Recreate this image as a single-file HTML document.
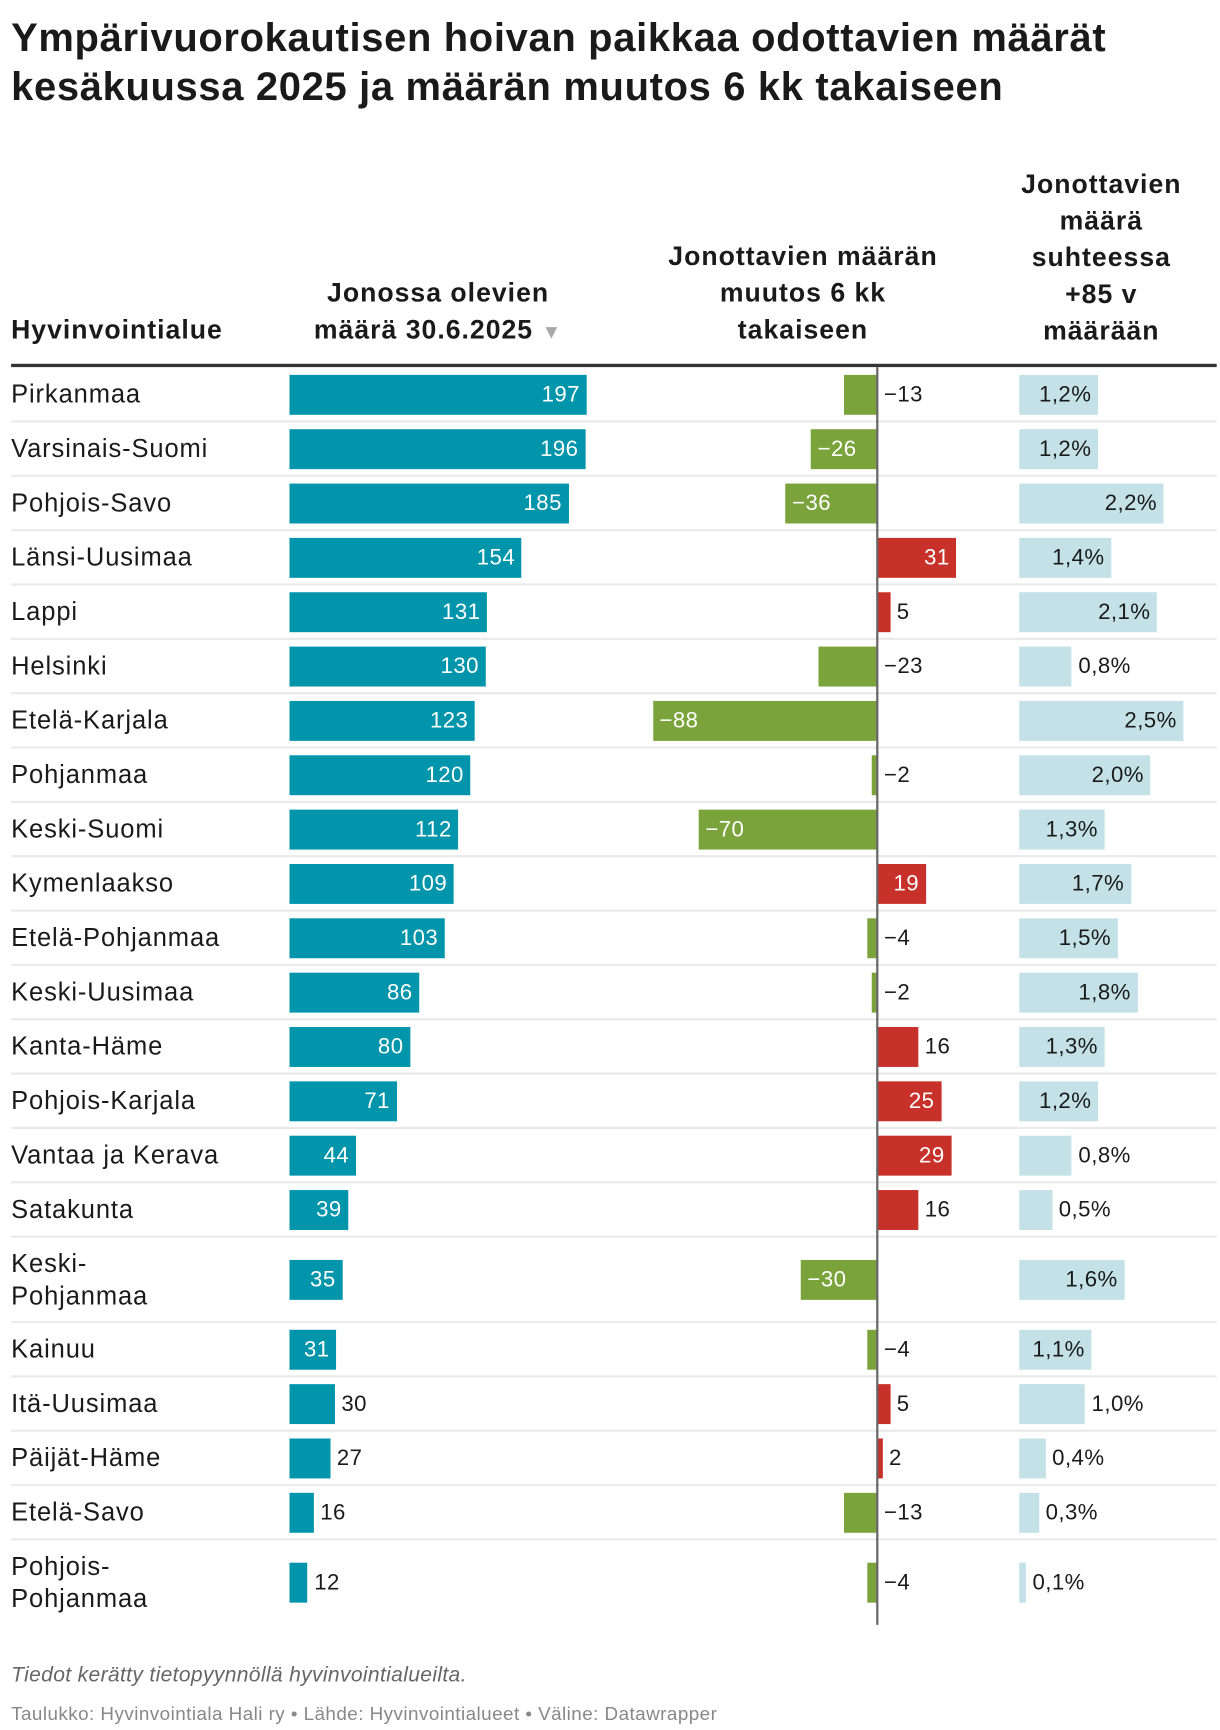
<!DOCTYPE html>
<html><head><meta charset="utf-8">
<style>
html,body{margin:0;padding:0;background:#fff;width:1220px;height:1730px;overflow:hidden}
#wrap{position:absolute;left:0;top:0;width:1100px;height:1560px;transform:scale(1.10909);transform-origin:0 0;font-family:"Liberation Sans",sans-serif;color:#1a1a1a}
.t{position:absolute;white-space:nowrap}
h1{position:absolute;left:10px;top:12px;margin:0;font-size:36px;line-height:44px;font-weight:bold;letter-spacing:0.6px;white-space:nowrap}
.hd{position:absolute;font-weight:bold;font-size:24px;line-height:33px;text-align:center;letter-spacing:0.9px}
.lab{position:absolute;left:10px;font-size:23px;line-height:29px;white-space:nowrap;letter-spacing:0.8px}
.bar{position:absolute;height:36px}
.v{position:absolute;font-size:20px;line-height:36px;white-space:nowrap;letter-spacing:0.4px}
</style></head><body>
<div id="wrap">
<h1>Ympärivuorokautisen hoivan paikkaa odottavien määrät<br>kesäkuussa 2025 ja määrän muutos 6 kk takaiseen</h1>
<div class="hd" style="left:10px;top:281px;text-align:left">Hyvinvointialue</div>
<div class="hd" style="left:235px;top:248px;width:320px">Jonossa olevien<br>määrä 30.6.2025 <span style="color:#aaa;font-size:18px">▼</span></div>
<div class="hd" style="left:564px;top:215px;width:320px">Jonottavien määrän<br>muutos 6 kk<br>takaiseen</div>
<div class="hd" style="left:893px;top:150px;width:200px">Jonottavien<br>määrä<br>suhteessa<br>+85 v<br>määrään</div>
<div style="position:absolute;left:10px;top:328px;width:1087px;height:3px;background:#333"></div>
<div id="rows"></div>
<div class="t" style="left:10px;top:1500px;font-size:19px;font-style:italic;color:#666;letter-spacing:0.3px">Tiedot kerätty tietopyynnöllä hyvinvointialueilta.</div>
<div class="t" style="left:10px;top:1536px;font-size:17px;color:#888;letter-spacing:0.4px">Taulukko: Hyvinvointiala Hali ry • Lähde: Hyvinvointialueet • Väline: Datawrapper</div>
</div>
<script>
const regions=["Pirkanmaa","Varsinais-Suomi","Pohjois-Savo","Länsi-Uusimaa","Lappi","Helsinki","Etelä-Karjala","Pohjanmaa","Keski-Suomi","Kymenlaakso","Etelä-Pohjanmaa","Keski-Uusimaa","Kanta-Häme","Pohjois-Karjala","Vantaa ja Kerava","Satakunta","Keski-<br>Pohjanmaa","Kainuu","Itä-Uusimaa","Päijät-Häme","Etelä-Savo","Pohjois-<br>Pohjanmaa"];
const queueCounts=[197,196,185,154,131,130,123,120,112,109,103,86,80,71,44,39,35,31,30,27,16,12];
const changes=[-13,-26,-36,31,5,-23,-88,-2,-70,19,-4,-2,16,25,29,16,-30,-4,5,2,-13,-4];
const relative=[1.2,1.2,2.2,1.4,2.1,0.8,2.5,2.0,1.3,1.7,1.5,1.8,1.3,1.2,0.8,0.5,1.6,1.1,1.0,0.4,0.3,0.1];

const xQ=v=>261+v*1.36;
const zero=791;
const xC=v=>zero+v*2.3;
const xR=v=>919+v*59.2;
const fmt=v=>v<0?"−"+(-v):""+v;
const rowsEl=document.getElementById('rows');
function mk(cls,st,html){const d=document.createElement('div');d.className=cls;d.style.cssText=st;if(html!==undefined)d.innerHTML=html;rowsEl.appendChild(d);return d;}
let yPos=331;
regions.forEach((r,i)=>{
  const two=r.includes('<br>');
  const h=two?77:49;
  const cy=yPos+h/2;
  const bt=cy-18;
  const lab=mk('lab','top:'+(two?cy-29:cy-15)+'px',r);
  
  
  const q=queueCounts[i];const w=xQ(q)-261;
  const b=mk('bar','left:261px;top:'+bt+'px;width:'+w+'px;background:#0095ab');
  
  
  const qv=q>=31?mk('v','left:'+(xQ(q)-80)+'px;width:74px;text-align:right;top:'+bt+'px;color:#fff',q):mk('v','left:'+(xQ(q)+6)+'px;top:'+bt+'px',q);
  
  
  const c=changes[i];const x0=Math.min(xC(c),zero),cw=Math.abs(xC(c)-zero);
  const cb=mk('bar','left:'+x0+'px;top:'+bt+'px;width:'+cw+'px;background:'+(c<0?'#7aa33b':'#c8312a'));
  
  
  let cv;
  if(c<=-26) cv=mk('v','left:'+(x0+6)+'px;top:'+bt+'px;color:#fff',fmt(c));
  else if(c<0) cv=mk('v','left:'+(zero+6)+'px;top:'+bt+'px',fmt(c));
  else if(c>=19) cv=mk('v','left:'+(xC(c)-80)+'px;width:74px;text-align:right;top:'+bt+'px;color:#fff',fmt(c));
  else cv=mk('v','left:'+(xC(c)+6)+'px;top:'+bt+'px',fmt(c));
  
  
  const rv=relative[i];const txt=rv.toFixed(1).replace('.',',')+'%';
  const rb=mk('bar','left:919px;top:'+bt+'px;width:'+(xR(rv)-919)+'px;background:#c3e1e6');
  
  
  const rl=rv>=1.1?mk('v','left:'+(xR(rv)-90)+'px;width:84px;text-align:right;top:'+bt+'px',txt):mk('v','left:'+(xR(rv)+6)+'px;top:'+bt+'px',txt);
  
  
  yPos+=h;
  if(i<regions.length-1){
    const s=mk('','position:absolute;left:10px;top:'+(yPos-1)+'px;width:1087px;height:2px;background:#eaeaea');
    
    
  }
});
const ax=mk('','position:absolute;left:'+(zero-1)+'px;top:331px;width:2px;height:'+(yPos-331)+'px;background:#666');


</script>
</body></html>
